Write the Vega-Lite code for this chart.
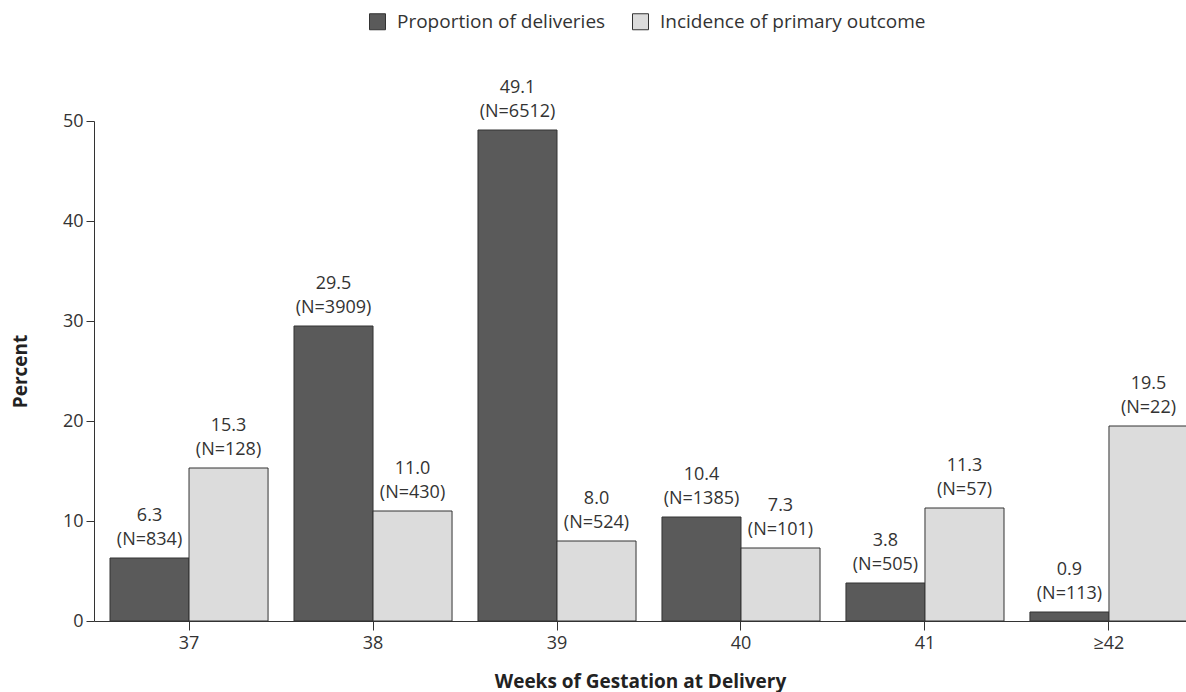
{
  "$schema": "https://vega.github.io/schema/vega-lite/v6.json",
  "width": 1110,
  "height": 500,
  "autosize": {"type": "none"},
  "padding": {"left": 94, "top": 121, "right": 0, "bottom": 71},
  "config": {"font": "Open Sans", "view": {"stroke": null}},
  "data": {
    "values": [
      {"week": "37", "series": "Proportion of deliveries", "value": 6.3, "pct": "6.3", "n": "(N=834)"},
      {"week": "37", "series": "Incidence of primary outcome", "value": 15.3, "pct": "15.3", "n": "(N=128)"},
      {"week": "38", "series": "Proportion of deliveries", "value": 29.5, "pct": "29.5", "n": "(N=3909)"},
      {"week": "38", "series": "Incidence of primary outcome", "value": 11.0, "pct": "11.0", "n": "(N=430)"},
      {"week": "39", "series": "Proportion of deliveries", "value": 49.1, "pct": "49.1", "n": "(N=6512)"},
      {"week": "39", "series": "Incidence of primary outcome", "value": 8.0, "pct": "8.0", "n": "(N=524)"},
      {"week": "40", "series": "Proportion of deliveries", "value": 10.4, "pct": "10.4", "n": "(N=1385)"},
      {"week": "40", "series": "Incidence of primary outcome", "value": 7.3, "pct": "7.3", "n": "(N=101)"},
      {"week": "41", "series": "Proportion of deliveries", "value": 3.8, "pct": "3.8", "n": "(N=505)"},
      {"week": "41", "series": "Incidence of primary outcome", "value": 11.3, "pct": "11.3", "n": "(N=57)"},
      {"week": "≥42", "series": "Proportion of deliveries", "value": 0.9, "pct": "0.9", "n": "(N=113)"},
      {"week": "≥42", "series": "Incidence of primary outcome", "value": 19.5, "pct": "19.5", "n": "(N=22)"}
    ]
  },
  "encoding": {
    "x": {
      "field": "week",
      "type": "nominal",
      "sort": ["37", "38", "39", "40", "41", "≥42"],
      "scale": {"paddingInner": 0.141, "paddingOuter": 0.087},
      "axis": {
        "labelAngle": 0,
        "labelFontSize": 18,
        "labelColor": "#333",
        "labelPadding": 4,
        "tickSize": 9,
        "tickColor": "#333",
        "domainColor": "#333",
        "title": "Weeks of Gestation at Delivery",
        "titleFontSize": 19,
        "titleFontWeight": "bold",
        "titleColor": "#222",
        "titlePadding": 20,
        "titleX": 546
      }
    },
    "xOffset": {
      "field": "series",
      "sort": ["Proportion of deliveries", "Incidence of primary outcome"],
      "scale": {"paddingInner": 0, "paddingOuter": 0}
    },
    "y": {
      "field": "value",
      "type": "quantitative",
      "scale": {"domain": [0, 50]},
      "axis": {
        "values": [0, 10, 20, 30, 40, 50],
        "grid": false,
        "labelFontSize": 18,
        "labelColor": "#333",
        "labelPadding": 3,
        "tickSize": 8,
        "tickColor": "#333",
        "domainColor": "#333",
        "title": "Percent",
        "titleFontSize": 19,
        "titleFontWeight": "bold",
        "titleColor": "#222",
        "titlePadding": 32
      }
    }
  },
  "layer": [
    {
      "mark": {"type": "bar", "stroke": "#333", "strokeWidth": 1},
      "encoding": {
        "color": {
          "field": "series",
          "type": "nominal",
          "scale": {
            "domain": ["Proportion of deliveries", "Incidence of primary outcome"],
            "range": ["#5a5a5a", "#dcdcdc"]
          },
          "legend": {
            "orient": "none",
            "legendX": 274,
            "legendY": -109,
            "direction": "horizontal",
            "title": null,
            "symbolType": "square",
            "symbolSize": 256,
            "symbolStrokeColor": "#333",
            "symbolStrokeWidth": 1,
            "symbolOpacity": 1,
            "labelFontSize": 19,
            "labelColor": "#333",
            "labelOffset": 10,
            "labelLimit": 0,
            "columnPadding": 24
          }
        }
      }
    },
    {
      "mark": {"type": "text", "baseline": "middle", "dy": -42, "fontSize": 18, "color": "#333"},
      "encoding": {"text": {"field": "pct"}}
    },
    {
      "mark": {"type": "text", "baseline": "middle", "dy": -18, "fontSize": 18, "color": "#333"},
      "encoding": {"text": {"field": "n"}}
    }
  ]
}
